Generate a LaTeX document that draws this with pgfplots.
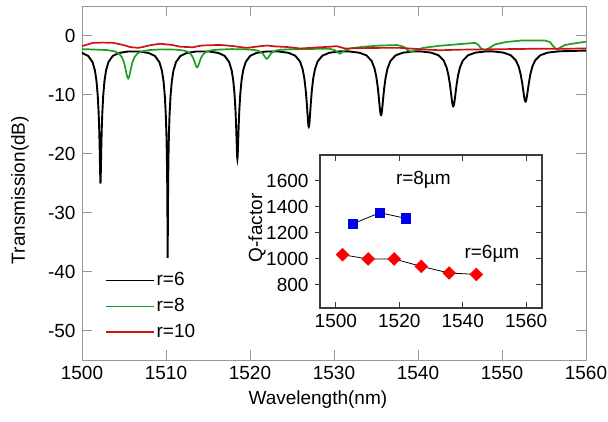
\documentclass[border=0pt]{standalone}
\usepackage{pgfplots}
\pgfplotsset{compat=1.18}
\usepackage{fontspec}
\setmainfont{Liberation Sans}
\definecolor{cgreen}{RGB}{30,160,30}
\definecolor{cred}{RGB}{205,20,20}
\definecolor{axgray}{RGB}{150,150,150}
\definecolor{inax}{RGB}{60,60,60}
\definecolor{qblue}{RGB}{0,0,235}
\definecolor{qred}{RGB}{250,0,0}
\newcommand{\ff}{\fontsize{19bp}{23bp}\selectfont}
\pgfplotsset{
  blackleg/.style={legend image code/.code={\draw[black, line width=1.4bp] (0bp,0bp) -- (48bp,0bp);}},
  greenleg/.style={legend image code/.code={\draw[cgreen, line width=1.4bp] (0bp,0bp) -- (48bp,0bp);}},
  redleg/.style={legend image code/.code={\draw[cred, line width=1.4bp] (0bp,0bp) -- (48bp,0bp);}},
}
\begin{document}
\ff
\begin{tikzpicture}
\begin{axis}[name=main, scale only axis, width=504bp, height=354bp,
  at={(0,0)}, anchor=south west,
  xmin=1500, xmax=1560, ymin=-55, ymax=5,
  xtick={1500,1510,1520,1530,1540,1550,1560},
  xticklabels={1500,1510,1520,1530,1540,1550,1560},
  ytick={-50,-40,-30,-20,-10,0},
  yticklabels={-50,-40,-30,-20,-10,0},
  tick align=inside, major tick length=10bp,
  axis line style={axgray, line width=0.9bp},
  every tick/.style={axgray, line width=0.9bp},
  ticklabel style={font=\ff, black},
  xlabel={Wavelength(nm)}, ylabel={Transmission(dB)},
  label style={font=\ff},
  xlabel style={at={(axis description cs:0.468,-0.113)}, anchor=center},
  ylabel style={at={(axis description cs:-0.123,0.48)}, anchor=center, rotate=0},
  legend cell align=left,
  legend style={at={(axis description cs:0.0456,0.253)}, anchor=north west,
    draw=none, fill=none, font=\ff, inner xsep=0pt, inner ysep=0pt,
    row sep=5.5bp, nodes={inner sep=2bp}},
]
\addplot[black, line width=1.9bp, blackleg] coordinates {
(1498.915,-2.71) (1500.01,-2.96) (1500.74,-3.46) (1501.251,-4.50) (1501.543,-5.96) (1501.725,-7.72) (1501.871,-10.12) (1501.981,-13.07) (1502.054,-16.09) (1502.112,-19.57) (1502.149,-22.35) (1502.178,-24.44) (1502.2,-25.1) (1502.222,-24.44) (1502.251,-22.35) (1502.288,-19.57) (1502.346,-16.09) (1502.419,-13.07) (1502.529,-10.12) (1502.675,-7.72) (1502.857,-5.96) (1503.149,-4.50) (1503.66,-3.46) (1504.39,-2.96) (1505.485,-2.71)
(1506.793,-2.71) (1507.929,-2.96) (1508.686,-3.47) (1509.216,-4.52) (1509.519,-5.99) (1509.708,-7.77) (1509.859,-10.23) (1509.973,-13.32) (1510.049,-16.62) (1510.109,-20.89) (1510.147,-25.36) (1510.177,-31.7) (1510.2,-37.7) (1510.223,-31.7) (1510.253,-25.36) (1510.291,-20.89) (1510.351,-16.62) (1510.427,-13.32) (1510.541,-10.23) (1510.692,-7.77) (1510.881,-5.99) (1511.184,-4.52) (1511.714,-3.47) (1512.471,-2.96) (1513.607,-2.71)
(1515.08,-2.71) (1516.22,-2.95) (1516.98,-3.45) (1517.512,-4.48) (1517.816,-5.91) (1518.006,-7.63) (1518.158,-9.94) (1518.272,-12.69) (1518.348,-15.31) (1518.409,-17.96) (1518.447,-19.65) (1518.477,-20.64) (1518.5,-20.9) (1518.523,-20.64) (1518.553,-19.65) (1518.591,-17.96) (1518.652,-15.31) (1518.728,-12.69) (1518.842,-9.94) (1518.994,-7.63) (1519.184,-5.91) (1519.488,-4.48) (1520.02,-3.45) (1520.78,-2.95) (1521.92,-2.71)
(1523.355,-2.70) (1524.57,-2.93) (1525.38,-3.42) (1525.947,-4.39) (1526.271,-5.73) (1526.473,-7.29) (1526.635,-9.28) (1526.757,-11.41) (1526.838,-13.12) (1526.903,-14.46) (1526.943,-15.12) (1526.976,-15.43) (1527.0,-15.5) (1527.024,-15.43) (1527.057,-15.12) (1527.097,-14.46) (1527.162,-13.12) (1527.243,-11.41) (1527.365,-9.28) (1527.527,-7.29) (1527.729,-5.73) (1528.053,-4.39) (1528.62,-3.42) (1529.43,-2.93) (1530.645,-2.70)
(1531.73,-2.69) (1533.02,-2.92) (1533.88,-3.38) (1534.482,-4.32) (1534.826,-5.59) (1535.041,-7.02) (1535.213,-8.80) (1535.342,-10.58) (1535.428,-11.90) (1535.497,-12.84) (1535.54,-13.26) (1535.574,-13.46) (1535.6,-13.5) (1535.626,-13.46) (1535.66,-13.26) (1535.703,-12.84) (1535.772,-11.90) (1535.858,-10.58) (1535.987,-8.80) (1536.159,-7.02) (1536.374,-5.59) (1536.718,-4.32) (1537.32,-3.38) (1538.18,-2.92) (1539.47,-2.69)
(1540.24,-2.69) (1541.56,-2.90) (1542.44,-3.35) (1543.056,-4.24) (1543.408,-5.43) (1543.628,-6.75) (1543.804,-8.32) (1543.936,-9.82) (1544.024,-10.85) (1544.094,-11.54) (1544.138,-11.84) (1544.174,-11.97) (1544.2,-12.0) (1544.226,-11.97) (1544.262,-11.84) (1544.306,-11.54) (1544.376,-10.85) (1544.464,-9.82) (1544.596,-8.32) (1544.772,-6.75) (1544.992,-5.43) (1545.344,-4.24) (1545.96,-3.35) (1546.84,-2.90) (1548.16,-2.69)
(1548.795,-2.68) (1550.13,-2.89) (1551.02,-3.33) (1551.643,-4.19) (1551.999,-5.32) (1552.221,-6.57) (1552.399,-8.02) (1552.533,-9.35) (1552.622,-10.24) (1552.693,-10.82) (1552.738,-11.07) (1552.773,-11.18) (1552.8,-11.2) (1552.827,-11.18) (1552.862,-11.07) (1552.907,-10.82) (1552.978,-10.24) (1553.067,-9.35) (1553.201,-8.02) (1553.379,-6.57) (1553.601,-5.32) (1553.957,-4.19) (1554.58,-3.33) (1555.47,-2.89) (1556.805,-2.68) (1560,-2.55)
};
\addlegendentry{r=6}
\addplot[cgreen, line width=1.7bp, greenleg] coordinates {
(1500,-2.3) (1503,-2.47) (1503.9,-2.69) (1504.4,-3.05) (1504.75,-3.67) (1505.0,-4.57) (1505.15,-5.43) (1505.3,-6.47) (1505.4,-7.06) (1505.5,-7.3) (1505.6,-7.06) (1505.7,-6.47) (1505.85,-5.43) (1506.0,-4.57) (1506.25,-3.67) (1506.6,-3.05) (1507.1,-2.69) (1508,-2.47)
(1509.5,-2.35) (1511.2,-2.40) (1512.1,-2.54) (1512.6,-2.77) (1512.95,-3.15) (1513.2,-3.71) (1513.35,-4.24) (1513.5,-4.88) (1513.6,-5.25) (1513.7,-5.4) (1513.8,-5.25) (1513.9,-4.88) (1514.05,-4.24) (1514.2,-3.71) (1514.45,-3.15) (1514.8,-2.77) (1515.3,-2.54) (1516.2,-2.40)
(1517.8,-2.3) (1519.5,-2.35) (1520.4,-2.43) (1520.9,-2.55) (1521.25,-2.75) (1521.5,-3.05) (1521.65,-3.33) (1521.8,-3.67) (1521.9,-3.87) (1522,-3.95) (1522.1,-3.87) (1522.2,-3.67) (1522.35,-3.33) (1522.5,-3.05) (1522.75,-2.75) (1523.1,-2.55) (1523.6,-2.43) (1524.5,-2.35)
(1526.5,-2.3) (1528.5,-2.25) (1529.5,-2.25) (1530.1,-2.5) (1530.45,-2.85) (1530.7,-3.1) (1530.95,-2.85) (1531.3,-2.5) (1531.9,-2.2) (1533.5,-1.9) (1535.5,-1.7) (1537.5,-1.62) (1538.3,-1.9) (1538.7,-2.4) (1539.2,-2.8) (1539.8,-2.45) (1540.6,-2.1) (1542.5,-1.75) (1544.6,-1.5) (1546.8,-1.25) (1547.2,-1.6) (1547.5,-2.2) (1548,-2.5) (1548.5,-2.1) (1549.2,-1.5) (1550.5,-1.1) (1552.3,-0.85) (1555.1,-0.85) (1555.7,-1.1) (1556.1,-1.8) (1556.5,-2.4) (1557,-2.0) (1557.5,-1.6) (1558.8,-1.3) (1560,-1.05)
};
\addlegendentry{r=8}
\addplot[cred, line width=1.7bp, redleg] coordinates {
(1500,-1.8) (1500.7,-1.5) (1501.3,-1.25) (1502.5,-1.2) (1503.7,-1.25) (1504.9,-1.6) (1505.7,-1.95) (1506.7,-2.1) (1507.4,-1.9) (1508.1,-1.65) (1509.3,-1.4) (1510.7,-1.6) (1511.7,-1.9) (1513.2,-2.0) (1514.2,-1.7) (1515.2,-1.65) (1516.5,-1.6) (1518,-1.8) (1519.6,-2.1) (1521,-1.85) (1522,-1.7) (1523,-1.85) (1524.4,-1.95) (1526,-2.2) (1527.2,-2.1) (1528.3,-2.0) (1529.5,-1.9) (1530.3,-1.8) (1531.3,-2.2) (1533,-2.15) (1535.5,-2.1) (1537.9,-2.1) (1539,-2.2) (1540.5,-2.35) (1542.6,-2.5) (1545,-2.4) (1548,-2.35) (1551,-2.3) (1554,-2.25) (1557,-2.25) (1560,-2.2)
};
\addlegendentry{r=10}
\end{axis}
% inset: main box with inside ticks
\begin{axis}[name=inset, scale only axis, width=222bp, height=153bp,
  at={(238bp,52bp)}, anchor=south west,
  xmin=1495, xmax=1565, ymin=620, ymax=1800,
  xtick={1500,1520,1540,1560}, xticklabels={1500,1520,1540,1560},
  ytick={800,1000,1200,1400,1600}, yticklabels={},
  ytick pos=right, xtick pos=both,
  tick align=inside, major tick length=6bp,
  axis line style={inax, line width=1.1bp},
  every tick/.style={inax, line width=1.1bp},
  ticklabel style={font=\ff, black},
]
\addplot[black, line width=0.8bp, mark=square*, mark size=4.7bp,
  mark options={solid, fill=qblue, draw=qblue}] coordinates {
(1505.4,1270) (1513.9,1355) (1522.1,1311)
};
\addplot[black, line width=0.8bp, mark=square*, mark size=4.4bp,
  mark options={solid, fill=qred, draw=qred, rotate=45}] coordinates {
(1502.1,1031) (1510.2,998) (1518.4,998) (1526.9,941) (1535.7,890) (1544.3,879)
};
\node[font=\ff, anchor=base] at (axis cs:1527.6,1571) {r=8µm};
\node[font=\ff, anchor=base] at (axis cs:1549.2,1002) {r=6µm};
\end{axis}
% inset: left axis with outside ticks and labels
\begin{axis}[scale only axis, width=222bp, height=153bp,
  at={(238bp,52bp)}, anchor=south west,
  xmin=1495, xmax=1565, ymin=620, ymax=1800,
  hide x axis, axis y line*=left,
  ytick={800,1000,1200,1400,1600}, yticklabels={800,1000,1200,1400,1600},
  tick align=outside, major tick length=5bp,
  axis line style={inax, line width=1.1bp, -},
  every tick/.style={inax, line width=1.1bp},
  ticklabel style={font=\ff, black},
  ylabel={Q-factor}, label style={font=\ff},
  ylabel style={at={(axis description cs:-0.284,0.523)}, anchor=center},
]
\end{axis}
\pgfresetboundingbox
\path[use as bounding box] (-82bp,-62bp) rectangle (526bp,360bp);
\end{tikzpicture}
\end{document}
